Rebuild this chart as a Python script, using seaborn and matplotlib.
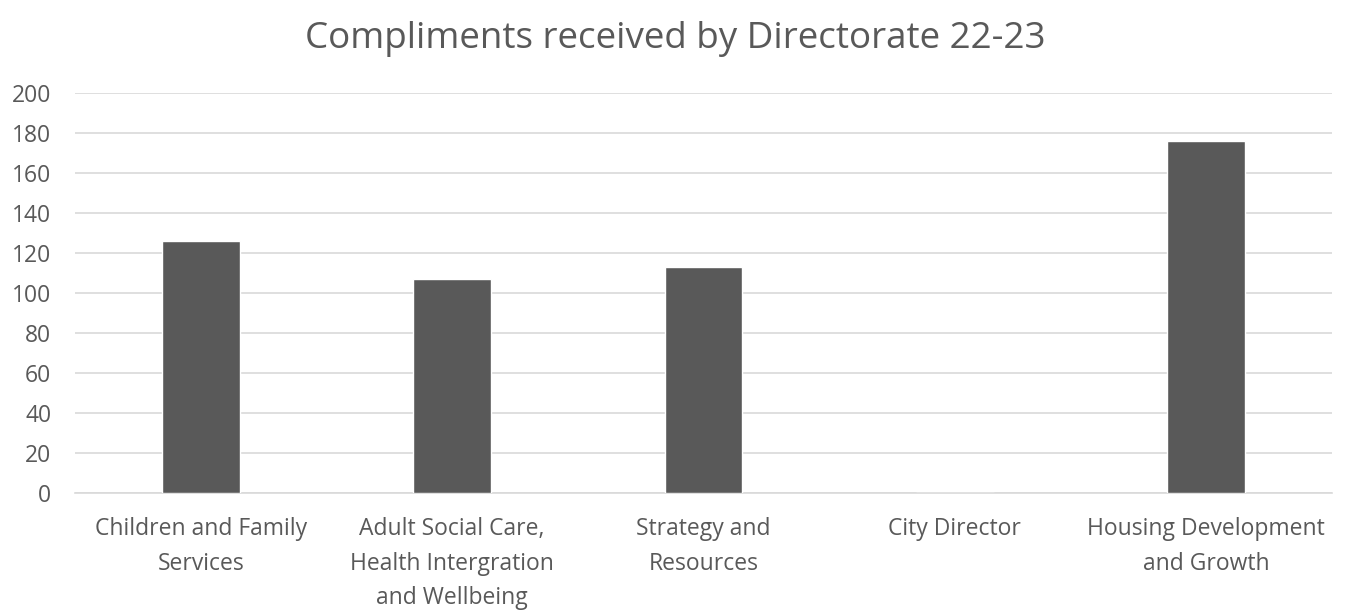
import matplotlib
matplotlib.use("Agg")
import matplotlib.pyplot as plt
import seaborn as sns
import pandas as pd

categories = ["Children and Family\nServices",
              "Adult Social Care,\nHealth Intergration\nand Wellbeing",
              "Strategy and\nResources",
              "City Director",
              "Housing Development\nand Growth"]
values = [126, 107, 113, 0, 176]
yticks = [0, 20, 40, 60, 80, 100, 120, 140, 160, 180, 200]
title = "Compliments received by Directorate 22-23"

sns.set_theme(style="white")
plt.rcParams['font.family'] = ['Open Sans', 'DejaVu Sans']

df = pd.DataFrame({"cat": categories, "val": values})

fig = plt.figure(figsize=(13.5, 6.1), dpi=100)
ax = fig.add_axes([0.0556, 0.1918, 0.931, 0.6557])
sns.barplot(data=df, x="cat", y="val", color="#595959", width=0.31,
            saturation=1, ax=ax, zorder=3)
ax.set_ylim(0, 200)
ax.set_yticks(yticks)
ax.yaxis.grid(True, color="#d9d9d9", linewidth=1.2, zorder=0)
ax.set_axisbelow(True)
for s in ["top", "right", "left"]:
    ax.spines[s].set_visible(False)
ax.spines["bottom"].set_color("#d9d9d9")
ax.spines["bottom"].set_linewidth(1.2)
ax.set_xlabel("")
ax.set_ylabel("")
ax.tick_params(axis="y", length=0, labelsize=16.5, colors="#595959", pad=17)
ax.tick_params(axis="x", length=0, labelsize=16.5, colors="#595959", pad=17.5)
for lbl in ax.get_xticklabels():
    lbl.set_linespacing(1.57)
fig.suptitle(title, fontsize=26.5, color="#595959", y=0.965)
fig.savefig("out.png", dpi=100)
